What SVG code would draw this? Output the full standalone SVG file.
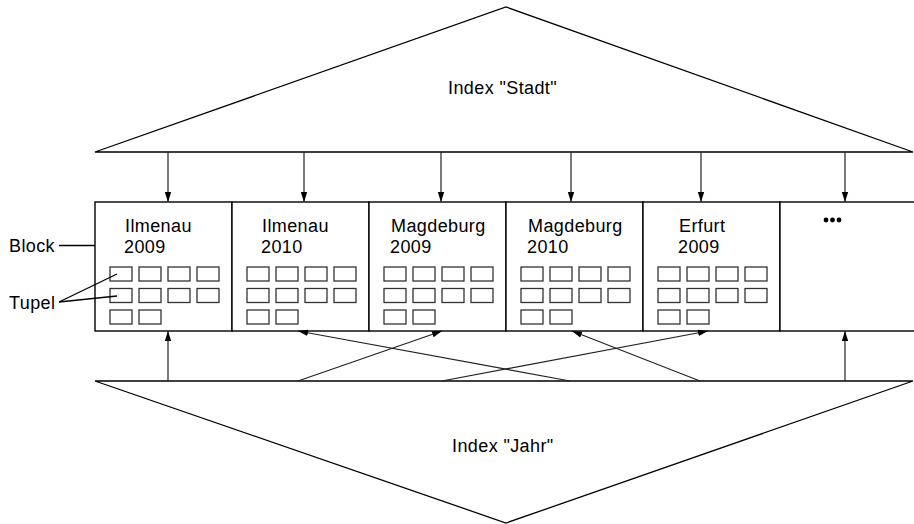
<svg xmlns="http://www.w3.org/2000/svg" width="914" height="524" viewBox="0 0 914 524">
<style>
.ln{stroke:#000;stroke-width:1.3;fill:none}
.bx{stroke:#000;stroke-width:1.4;fill:#fff}
.t{stroke:#333;stroke-width:1.3;fill:#fff}
.tx{font-family:"Liberation Sans",Arial,sans-serif;font-size:18px;letter-spacing:0.4px;fill:#000}
.ar{stroke:#222;stroke-width:1.2;fill:none;marker-end:url(#ah)}
</style>
<defs>
<marker id="ah" markerWidth="10" markerHeight="8" refX="10" refY="4" orient="auto" markerUnits="userSpaceOnUse">
<path d="M0,0.8 L10,4 L0,7.2 Z" fill="#000"/>
</marker>
<g id="tuples">
<rect class="t" x="0" y="0" width="22" height="14"/>
<rect class="t" x="29" y="0" width="22" height="14"/>
<rect class="t" x="58" y="0" width="22" height="14"/>
<rect class="t" x="87" y="0" width="22" height="14"/>
<rect class="t" x="0" y="21.5" width="22" height="14"/>
<rect class="t" x="29" y="21.5" width="22" height="14"/>
<rect class="t" x="58" y="21.5" width="22" height="14"/>
<rect class="t" x="87" y="21.5" width="22" height="14"/>
<rect class="t" x="0" y="43" width="22" height="14"/>
<rect class="t" x="29" y="43" width="22" height="14"/>
</g>
</defs>
<rect width="914" height="524" fill="#fff"/>

<g id="index-stadt">
<path class="ln" d="M95,152 L506,7 L913,152 Z"/>
<text class="tx" x="448" y="94">Index "Stadt"</text>
</g>

<g id="index-jahr">
<path class="ln" d="M95,381 L913,381 L506,523 Z"/>
<text class="tx" x="452" y="452">Index "Jahr"</text>
</g>

<g id="block1">
<rect class="bx" x="95" y="202" width="137" height="129"/>
<text class="tx" x="125" y="232">Ilmenau</text>
<text class="tx" x="124" y="253">2009</text>
<use href="#tuples" x="110" y="267"/>
</g>
<g id="block2">
<rect class="bx" x="232" y="202" width="137" height="129"/>
<text class="tx" x="262" y="232">Ilmenau</text>
<text class="tx" x="261" y="253">2010</text>
<use href="#tuples" x="247" y="267"/>
</g>
<g id="block3">
<rect class="bx" x="369" y="202" width="137" height="129"/>
<text class="tx" x="391" y="232">Magdeburg</text>
<text class="tx" x="390" y="253">2009</text>
<use href="#tuples" x="384" y="267"/>
</g>
<g id="block4">
<rect class="bx" x="506" y="202" width="137" height="129"/>
<text class="tx" x="528" y="232">Magdeburg</text>
<text class="tx" x="527" y="253">2010</text>
<use href="#tuples" x="521" y="267"/>
</g>
<g id="block5">
<rect class="bx" x="643" y="202" width="137" height="129"/>
<text class="tx" x="679" y="232">Erfurt</text>
<text class="tx" x="678" y="253">2009</text>
<use href="#tuples" x="658" y="267"/>
</g>
<g id="block6">
<rect class="bx" x="780" y="202" width="140" height="129"/>
<circle cx="826" cy="220" r="2.4" fill="#000"/>
<circle cx="832.5" cy="220" r="2.4" fill="#000"/>
<circle cx="839" cy="220" r="2.4" fill="#000"/>
</g>

<g id="label-block">
<text class="tx" x="9" y="252">Block</text>
</g>
<g id="label-tupel">
<text class="tx" x="9" y="309">Tupel</text>
</g>

<g id="connectors">
<line class="ar" x1="168" y1="152" x2="168" y2="202"/>
<line class="ar" x1="304" y1="152" x2="304" y2="202"/>
<line class="ar" x1="441" y1="152" x2="441" y2="202"/>
<line class="ar" x1="571" y1="152" x2="571" y2="202"/>
<line class="ar" x1="701" y1="152" x2="701" y2="202"/>
<line class="ar" x1="845" y1="152" x2="845" y2="202"/>

<line class="ar" x1="168" y1="381" x2="168" y2="331"/>
<line class="ar" x1="298" y1="381" x2="442" y2="331"/>
<line class="ar" x1="442" y1="381" x2="708" y2="331"/>
<line class="ar" x1="570" y1="381" x2="298" y2="331"/>
<line class="ar" x1="700" y1="381" x2="572" y2="331"/>
<line class="ar" x1="845" y1="381" x2="845" y2="331"/>

<line class="ln" x1="59" y1="245.5" x2="95" y2="245.5"/>
<line class="ln" x1="59" y1="302" x2="117" y2="274"/>
<line class="ln" x1="59" y1="302" x2="117" y2="296"/>
</g>
</svg>
